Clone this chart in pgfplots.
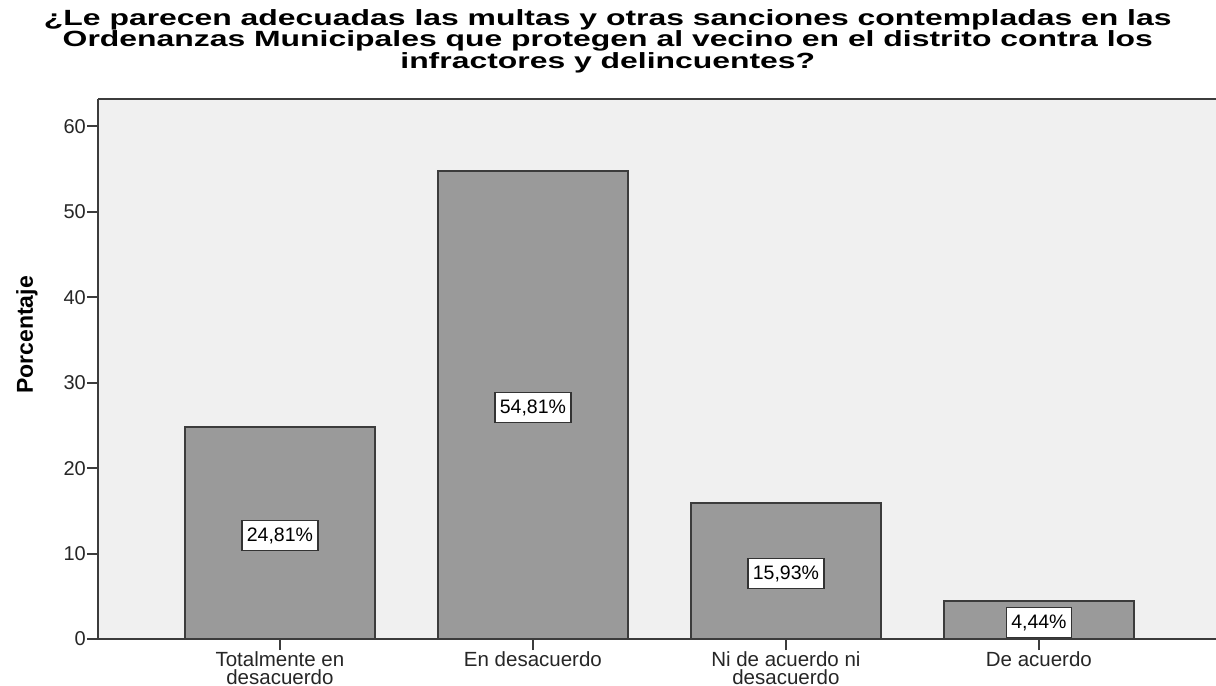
\documentclass[border=0pt]{standalone}
\usepackage{pgfplots}
\pgfplotsset{compat=1.18}
\usepackage{fontspec}
\setmainfont{Liberation Sans}
\newfontfamily\titlefont{Liberation Sans}[FakeStretch=1.45]

\definecolor{barfill}{HTML}{9A9A9A}
\definecolor{baredge}{HTML}{3C3C3C}
\definecolor{plotbg}{HTML}{F0F0F0}

\begin{document}
\begin{tikzpicture}
\begin{axis}[
    scale only axis,
    width=1118pt, height=540pt,
    xmin=-0.719, xmax=3.70,
    ymin=0, ymax=63.2,
    axis background/.style={fill=plotbg},
    axis x line*=box, axis y line*=left,
    axis line style={draw=baredge, line width=2pt},
    xtick pos=bottom, ytick pos=left,
    tick align=outside,
    major tick length=11pt,
    tick style={draw=baredge, line width=2pt},
    xtick={0,1,2,3},
    xticklabels={{Totalmente en\\desacuerdo},{En desacuerdo},{Ni de acuerdo ni\\desacuerdo},{De acuerdo}},
    xticklabel style={align=center, font=\fontsize{20.5}{18.5}\selectfont, text=black!85, inner sep=1pt},
    ytick={0,10,20,30,40,50,60},
    yticklabel style={font=\fontsize{20}{20}\selectfont, text=black!85, inner sep=1pt},
    /pgf/number format/assume math mode=true,
    ylabel={\bfseries Porcentaje},
    ylabel style={at={(axis description cs:-0.0635,0.563)}, anchor=center, font=\fontsize{23}{23}\selectfont},
    title={\bfseries ¿Le parecen adecuadas las multas y otras sanciones contempladas en las\\ \bfseries Ordenanzas Municipales que protegen al vecino en el distrito contra los\\ \bfseries infractores y delincuentes?},
    title style={at={(axis description cs:0.456,1)}, anchor=south, align=center, inner sep=0pt, yshift=20pt,
        font=\titlefont\fontsize{22}{19.5}\selectfont},
    clip=false,
]
\addplot[ybar, bar width=0.751, fill=barfill, draw=baredge, line width=2pt]
    coordinates {(0,24.81) (1,54.81) (2,15.93) (3,4.44)};
% value labels, at half the bar height
\addplot[only marks, mark=none,
    nodes near coords,
    point meta=explicit symbolic,
    every node near coord/.append style={anchor=center, fill=white, draw=black!80, line width=1.5pt,
        inner xsep=5pt, inner ysep=7pt, font=\fontsize{19.5}{19.5}\selectfont}]
    coordinates {(0,12.1) [24,81\%] (1,27.1) [54,81\%] (2,7.67) [15,93\%] (3,1.92) [4,44\%]};
\end{axis}
\pgfresetboundingbox
\path ([shift={(-98pt,-46pt)}]current axis.south west) rectangle ([shift={(0pt,99pt)}]current axis.north east);
\end{tikzpicture}
\end{document}
